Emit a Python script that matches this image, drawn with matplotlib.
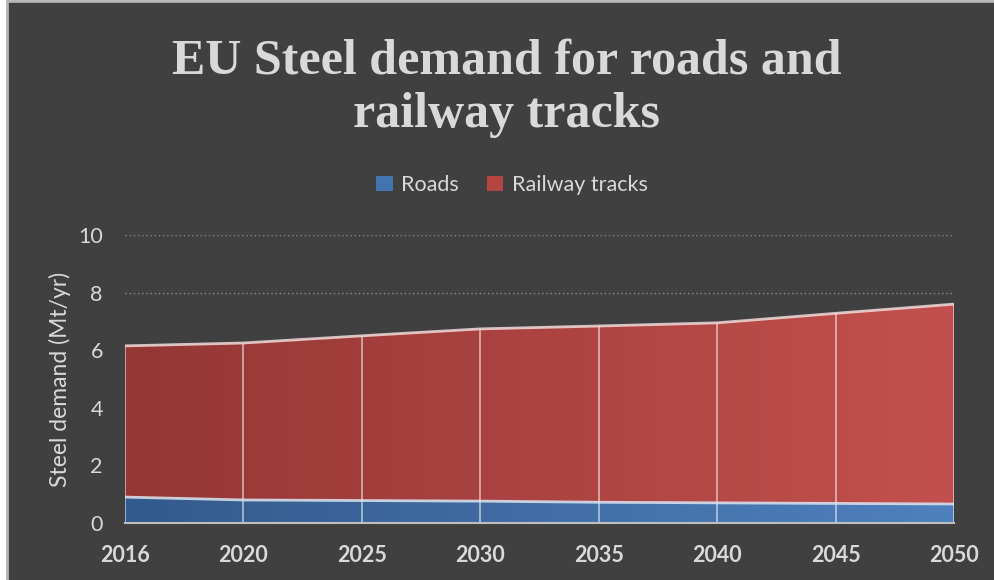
import numpy as np
import matplotlib
matplotlib.use("Agg")
import matplotlib.pyplot as plt
from matplotlib.colors import LinearSegmentedColormap
from matplotlib.patches import Patch, Rectangle

years = ["2016", "2020", "2025", "2030", "2035", "2040", "2045", "2050"]
roads = [0.90, 0.80, 0.78, 0.76, 0.72, 0.70, 0.68, 0.66]
railway = [5.25, 5.45, 5.72, 5.98, 6.12, 6.25, 6.60, 6.94]

BG = "#404040"
TXT = "#d9d9d9"
FONT = "Lato"

x = np.arange(len(years))
roads = np.array(roads)
total = roads + np.array(railway)

fig = plt.figure(figsize=(9.94, 5.80), dpi=100, facecolor="white")
# chart background, border shows only on the top/left edges
fig.patches.append(Rectangle((7 / 994, -0.1), 1.2, 1.1 - 1.5 / 580, transform=fig.transFigure,
                             facecolor=BG, edgecolor="#b3b3b3", linewidth=2, zorder=-5))

ax = fig.add_axes([125 / 994, (580 - 523) / 580, 829 / 994, 288 / 580])
ax.set_facecolor("none")


def gradient_area(lower, upper, c0, c1, edge):
    poly = ax.fill_between(x, lower, upper, facecolor="none", edgecolor="none")
    path = poly.get_paths()[0]
    cmap = LinearSegmentedColormap.from_list("g", [c0, c1])
    im = ax.imshow(np.linspace(0, 1, 256)[None, :], cmap=cmap, aspect="auto",
                   extent=[x[0], x[-1], 0, 10], origin="lower", zorder=2)
    im.set_clip_path(path, transform=ax.transData)
    ax.plot(x, upper, color=edge, lw=2, alpha=0.85, zorder=4, solid_capstyle="butt")


gradient_area(np.zeros_like(roads), roads, "#335a8c", "#4f81bd", "#dce6f2")
gradient_area(roads, total, "#943735", "#c3504e", "#f2dcdb")

# drop lines at each category
ax.vlines(x, 0, total, color="white", lw=1.3, alpha=0.55, zorder=3)

ax.set_xlim(x[0], x[-1])
ax.set_ylim(0, 10)
ax.set_yticks(np.arange(0, 11, 2))
ax.yaxis.grid(True, color="#8c8c8c", ls=(0, (1, 2)), lw=1, zorder=0)
ax.set_axisbelow(True)

for s in ["top", "right", "left"]:
    ax.spines[s].set_visible(False)
ax.spines["bottom"].set_color("#bfbfbf")
ax.spines["bottom"].set_linewidth(1.5)
ax.spines["bottom"].set_zorder(5)

ax.set_xticks(x)
ax.set_xticklabels(years, fontfamily=FONT, fontsize=15.5, fontweight="bold", color=TXT)
ax.tick_params(axis="x", length=0, pad=16)
ax.tick_params(axis="y", length=0, pad=16, labelsize=15.5, labelcolor=TXT)
for t in ax.get_yticklabels():
    t.set_fontfamily(FONT)

ax.set_ylabel("Steel demand (Mt/yr)", fontfamily=FONT, fontsize=16.5, color=TXT, labelpad=5)

fig.text(507 / 994, 1 - 62 / 580, "EU Steel demand for roads and", ha="center", va="center",
         fontfamily="Liberation Serif", fontweight="bold", fontsize=36, color=TXT)
fig.text(507 / 994, 1 - 115 / 580, "railway tracks", ha="center", va="center",
         fontfamily="Liberation Serif", fontweight="bold", fontsize=36, color=TXT)

handles = [Patch(facecolor="#4275b0", edgecolor="none", label="Roads"),
           Patch(facecolor="#b24542", edgecolor="none", label="Railway tracks")]
fig.legend(handles=handles, loc="center", bbox_to_anchor=(512 / 994, 1 - 185 / 580), ncol=2,
           frameon=False, prop={"family": FONT, "size": 15.5}, labelcolor=TXT,
           handlelength=0.75, handleheight=0.75, handletextpad=0.4, columnspacing=1.3)

fig.savefig("out.png", dpi=100, facecolor=fig.get_facecolor())
